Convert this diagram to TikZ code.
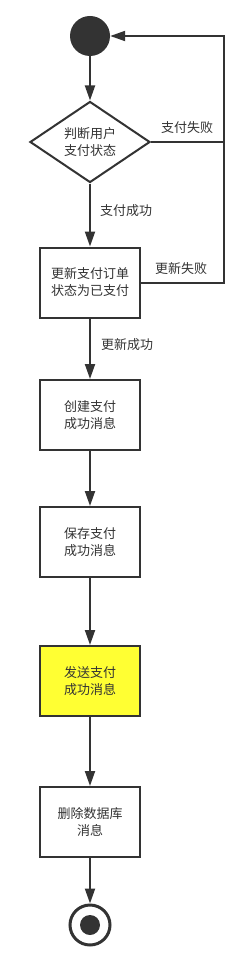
\documentclass[tikz,border=0pt]{standalone}
\usepackage{fontspec}
\setmainfont{Noto Sans CJK SC}
\usetikzlibrary{arrows.meta,shapes.geometric}
\definecolor{ink}{HTML}{333333}
\definecolor{hl}{HTML}{FFFF33}
\begin{document}
\begin{tikzpicture}[x=1pt,y=-1pt,
  every node/.style={font=\fontsize{13}{17}\selectfont, text=ink},
  stepbox/.style={draw=ink, line width=2pt, fill=white, minimum width=100pt, minimum height=70pt, align=center, inner sep=0pt},
  decision/.style={draw=ink, line width=2pt, fill=white, diamond, minimum width=120pt, minimum height=80pt, inner sep=0pt, align=center},
  conn/.style={draw=ink, line width=2pt, -{Triangle[length=15pt,width=10pt]}},
  plain/.style={draw=ink, line width=2pt},
  lbl/.style={inner sep=0pt}]
\useasboundingbox (0,0) rectangle (246,960);
\node[circle, fill=ink, minimum size=40pt, inner sep=0pt] (start) at (90,36) {};
\node[decision] (dec) at (90,142) {判断用户\\支付状态};
\node[stepbox] (b1) at (90,282.5) {更新支付订单\\状态为已支付};
\node[stepbox] (b2) at (90,415) {创建支付\\成功消息};
\node[stepbox] (b3) at (90,542) {保存支付\\成功消息};
\node[stepbox, fill=hl] (b4) at (90,681) {发送支付\\成功消息};
\node[stepbox] (b5) at (90,822) {删除数据库\\消息};
\node[circle, draw=ink, line width=3pt, minimum size=40pt, inner sep=0pt] (end) at (90,925) {};
\node[circle, fill=ink, minimum size=20pt, inner sep=0pt] (endin) at (90,925) {};
\coordinate (rt) at (224,36);
\draw[conn] (start) -- (dec);
\draw[conn] (dec) -- (b1);
\draw[conn] (b1) -- (b2);
\draw[conn] (b2) -- (b3);
\draw[conn] (b3) -- (b4);
\draw[conn] (b4) -- (b5);
\draw[conn] (b5) -- (end);
\draw[plain] (dec.east) -- (dec.east -| rt);
\draw[conn] (b1.east) -| (rt) -- (start.east);
\node[lbl] (l1) at (187,128) {支付失败};
\node[lbl] (l2) at (126,211) {支付成功};
\node[lbl] (l3) at (181,269) {更新失败};
\node[lbl] (l4) at (127,345) {更新成功};
\end{tikzpicture}
\end{document}
